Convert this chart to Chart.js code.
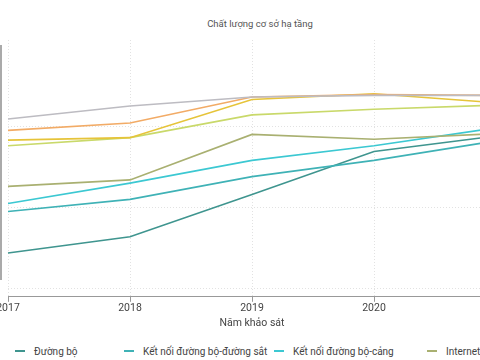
<!DOCTYPE html>
<html>
<head>
<meta charset="utf-8">
<script src="https://cdn.jsdelivr.net/npm/chart.js@4/dist/chart.umd.min.js"></script>
<style>
  html, body { margin: 0; padding: 0; width: 480px; height: 360px; overflow: hidden; background: #fff; font-family: Roboto, "Noto Sans", sans-serif; }
  #wrap { position: absolute; left: -30px; top: 0; width: 550px; height: 330px; }
  #title { position: absolute; top: 18px; left: 0; width: 520px; text-align: center; font-size: 9.5px; color: #555; }
  #edge { position: absolute; left: 0; top: 45px; width: 2px; height: 235px; background: #aaa; }
  #legend { position: absolute; left: 0; top: 345px; width: 600px; height: 40px; font-size: 10px; color: #444; }
  .li { position: absolute; white-space: nowrap; line-height: 14px; }
  .mk { display: inline-block; width: 10px; height: 2px; vertical-align: middle; margin-right: 9px; position: relative; top: -1px; }
</style>
</head>
<body>
<div id="title">Chất lượng cơ sở hạ tầng</div>
<div id="wrap"><canvas id="c"></canvas></div>
<div id="edge"></div>
<div id="legend"></div>
<script>
// ---- data ----
const years = ['2017', '2018', '2019', '2020', '2021'];
const seriesNames = ['Đường bộ', 'Kết nối đường bộ-đường sắt', 'Kết nối đường bộ-cảng', 'Internet', 'Điện', 'Viễn thông', 'Cảng biển', 'Cấp nước'];
const duongBo      = [3.44, 3.64, 4.16, 4.69, 4.88];
const boDuongSat   = [3.95, 4.10, 4.38, 4.58, 4.82];
const boCang       = [4.05, 4.30, 4.58, 4.76, 4.98];
const internet     = [4.26, 4.34, 4.90, 4.84, 4.91];
const dien         = [4.76, 4.86, 5.14, 5.21, 5.26];
const vienThong    = [4.83, 4.86, 5.33, 5.40, 5.29];
const cangBien     = [4.95, 5.04, 5.36, 5.39, 5.38];
const capNuoc      = [5.09, 5.25, 5.36, 5.38, 5.38];
const yTickValues  = [3, 4, 5];
const xAxisTitle   = 'Năm khảo sát';

// ---- styles ----
const colors = ['#3f958f', '#3fb2b6', '#3cc8d2', '#a9b071', '#c9d96a', '#e6c43a', '#f2ab66', '#bdbcc2'];
const legendPos = [[15, 0], [124, 0], [274, 0], [427, 0], [15, 18], [124, 18], [274, 18], [427, 18]];

const allSeries = [duongBo, boDuongSat, boCang, internet, dien, vienThong, cangBien, capNuoc];
const datasets = allSeries.map((d, i) => ({
  label: seriesNames[i],
  data: d,
  borderColor: colors[i],
  backgroundColor: colors[i],
  borderWidth: 1.6,
  pointRadius: 0,
  tension: 0,
  fill: false
})).reverse();

const lg = document.getElementById('legend');
seriesNames.forEach((n, i) => {
  const el = document.createElement('div');
  el.className = 'li';
  el.style.left = legendPos[i][0] + 'px';
  el.style.top = legendPos[i][1] + 'px';
  const mk = document.createElement('span');
  mk.className = 'mk';
  mk.style.background = colors[i];
  el.appendChild(mk);
  el.appendChild(document.createTextNode(n));
  lg.appendChild(el);
});

const axisLine = {
  id: 'axisLine',
  afterDraw(chart) {
    const { ctx, chartArea } = chart;
    const y = Math.round(chartArea.bottom) + 0.5;
    ctx.save();
    ctx.setLineDash([]);
    ctx.strokeStyle = '#999';
    ctx.lineWidth = 1;
    ctx.beginPath();
    ctx.moveTo(chartArea.left, y);
    ctx.lineTo(chart.width, y);
    ctx.stroke();
    ctx.restore();
  }
};

new Chart(document.getElementById('c'), {
  type: 'line',
  data: { labels: years, datasets },
  plugins: [axisLine],
  options: {
    responsive: true,
    maintainAspectRatio: false,
    animation: false,
    layout: { padding: { left: 38, right: 24, top: 40, bottom: 0 } },
    plugins: { legend: { display: false }, title: { display: false }, tooltip: { enabled: false } },
    scales: {
      x: {
        offset: false,
        grid: { color: '#e2e2e2', tickColor: '#999', tickBorderDash: [], tickBorderDashOffset: 0, tickLength: 6, drawTicks: true },
        border: { display: false, dash: [1, 2] },
        ticks: { color: '#444', font: { family: 'Roboto', size: 10.5 }, padding: 0, maxRotation: 0 },
        title: { display: true, text: xAxisTitle, color: '#444', font: { family: 'Roboto', size: 10.5 }, padding: { top: 3, bottom: 0 } }
      },
      y: {
        min: 2.9125,
        max: 6.0625,
        afterBuildTicks: (s) => { s.ticks = yTickValues.map(v => ({ value: v })); },
        ticks: { display: false },
        grid: { color: '#e2e2e2', drawTicks: false },
        border: { display: false, dash: [1, 2] }
      }
    }
  }
});
</script>
</body>
</html>
